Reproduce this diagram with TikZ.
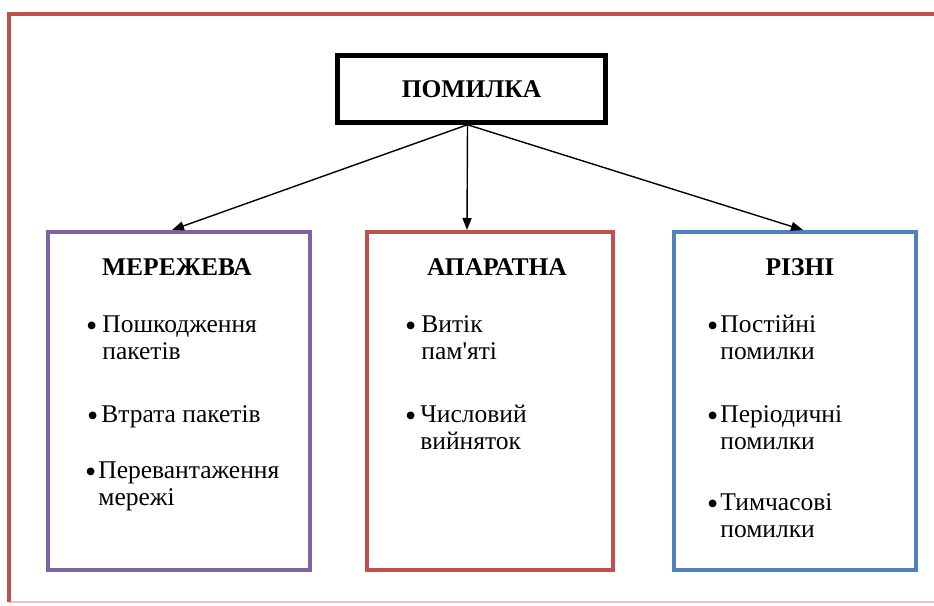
\documentclass[tikz,border=0pt]{standalone}
\usepackage{fontspec}
\setmainfont{Liberation Serif}
\usetikzlibrary{shapes,arrows,arrows.meta,positioning,calc}

% bullet item: bullet, first line, second line
\newcommand{\bdot}{\raisebox{-4pt}[0pt][0pt]{\fontsize{32}{27}\selectfont\textbullet}}
\newcommand{\bitem}[3][4pt]{\begin{tabular}[t]{@{}l@{\hskip#1}l@{}}\bdot&#2\\&#3\end{tabular}}

\begin{document}
\begin{tikzpicture}[x=1pt,y=-1pt,
    every node/.style={font=\fontsize{25.5}{27}\selectfont},
    topbox/.style={draw=black, line width=4.5pt, minimum width=268pt, minimum height=67pt, font=\fontsize{25.5}{27}\selectfont\bfseries},
    catbox/.style={draw=#1, line width=4pt, minimum height=338pt},
    cattitle/.style={anchor=base, font=\fontsize{25.5}{27}\selectfont\bfseries},
    item/.style={anchor=base west, inner sep=0pt},
    link/.style={line width=1.4pt, -{Triangle[length=12pt,width=9pt]}}]
        \definecolor{framered}{RGB}{192,80,77}
        \definecolor{netpurple}{RGB}{128,100,162}
        \definecolor{hwred}{RGB}{192,80,77}
        \definecolor{miscblue}{RGB}{79,129,189}

        \useasboundingbox (0,0) rectangle (934,605);

        % Outer frame
        \draw[framered!35, line width=2pt] (9,602) -- (940,602);
        \draw[framered, line width=4pt] (9,602) -- (9,14) -- (940,14);

        % Root
        \node[topbox] (err) at (471.5,89) {ПОМИЛКА};

        % Categories
        \node[catbox=netpurple, minimum width=262pt] (net) at (179,401) {};
        \node[catbox=hwred, minimum width=246pt] (hw) at (490,401) {};
        \node[catbox=miscblue, minimum width=242pt] (misc) at (795,401) {};

        % Arrows
        \draw[link] ([xshift=-4pt]err.south) -- ([xshift=-7pt]net.north);
        \draw[link] ([xshift=-4pt]err.south) -- ([xshift=-23pt]hw.north);
        \draw[link] ([xshift=-4pt]err.south) -- ([xshift=8pt]misc.north);

        % Titles
        \node[cattitle] (netT) at (177,275) {МЕРЕЖЕВА};
        \node[cattitle] (hwT) at (497,275) {АПАРАТНА};
        \node[cattitle] (miscT) at (800,275) {РІЗНІ};

        % Items
        \node[item] (net1) at (86,332) {\bitem[5pt]{Пошкодження}{пакетів}};
        \node[item] (net2) at (87,422) {\bitem[3pt]{Втрата пакетів}{}};
        \node[item] (net3) at (85,478) {\bitem[2pt]{Перевантаження}{мережі}};

        \node[item] (hw1) at (405,332) {\bitem[5pt]{Витік}{пам\textquotesingle яті}};
        \node[item] (hw2) at (405,422) {\bitem[4pt]{Числовий}{вийняток}};

        \node[item] (misc1) at (707,332) {\bitem[2pt]{Постійні}{помилки}};
        \node[item] (misc2) at (707,422) {\bitem[2pt]{Періодичні}{помилки}};
        \node[item] (misc3) at (707,510) {\bitem[2pt]{Тимчасові}{помилки}};
    \end{tikzpicture}
\end{document}
